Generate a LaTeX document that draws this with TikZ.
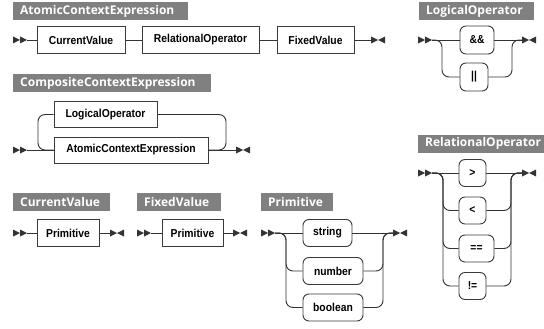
\documentclass[tikz,border=0pt]{standalone}
\usepackage{fontspec}
\newfontfamily\titlefont{Open Sans}
\newfontfamily\boxfont[FakeStretch=0.9]{Liberation Sans}
\definecolor{lc}{HTML}{333333}
\definecolor{bc}{HTML}{3A3A3A}
\definecolor{tc}{HTML}{808080}
\tikzset{
  ln/.style={draw=lc, line width=0.9pt},
  br/.style={ln, rounded corners=7pt},
  nt/.style={draw=bc, fill=white, line width=0.9pt, minimum height=27pt, inner sep=0pt,
    font=\boxfont\bfseries\fontsize{11.5}{13}\selectfont},
  tm/.style={nt, rounded corners=6pt},
  ttl/.style={fill=tc, text=white, anchor=west, inner xsep=7pt, inner ysep=0pt,
    minimum height=18pt, align=left, font=\titlefont\bfseries\fontsize{12}{14}\selectfont},
  startm/.pic={\fill[lc] (0,-3.5) -- (7,0) -- (0,3.5) -- cycle;
               \fill[lc] (7,-3.5) -- (14,0) -- (7,3.5) -- cycle;},
  endm/.pic={\fill[lc] (0,-3.5) -- (7,0) -- (0,3.5) -- cycle;
             \fill[lc] (14,-3.5) -- (7,0) -- (14,3.5) -- cycle;}
}
\begin{document}
\begin{tikzpicture}[x=1pt,y=-1pt]
\useasboundingbox[fill=white] (0,0) rectangle (544,329);
% titles
\node[ttl, text width=161pt] (t1) at (13,11) {AtomicContextExpression};
\node[ttl, text width=184pt] (t2) at (13,83) {CompositeContextExpression};
\node[ttl, text width=83pt] (t3) at (13,201.5) {CurrentValue};
\node[ttl, text width=70pt] (t4) at (137,201.5) {FixedValue};
\node[ttl, text width=58pt] (t5) at (261,201.5) {Primitive};
\node[ttl, text width=101pt] (t6) at (419,11) {LogicalOperator};
\node[ttl, text width=130pt] (t7) at (418,143.5) {RelationalOperator};

% AtomicContextExpression
\pic at (13,40) {startm};
\coordinate (s1) at (27,40);
\node[nt, minimum width=88pt] (cv1) at (81,40) {CurrentValue};
\node[nt, minimum width=117pt] (ro1) at (200.5,40) {RelationalOperator};
\node[nt, minimum width=77pt] (fv1) at (315.5,40) {FixedValue};
\coordinate (e1) at (371,40);
\pic at (371,40) {endm};
\draw[ln] (s1) -- (cv1) -- (ro1) -- (fv1) -- (e1);

% CompositeContextExpression
\pic at (13,150) {startm};
\coordinate (s2) at (27,150);
\node[nt, minimum width=103pt, minimum height=26pt] (lo2) at (105.5,114.5) {LogicalOperator};
\node[nt, minimum width=154pt, minimum height=26pt] (ac2) at (131,150) {AtomicContextExpression};
\coordinate (e2) at (236,150);
\pic at (236,150) {endm};
\draw[ln] (s2) -- (ac2);
\draw[ln] (ac2) -- (e2);
\draw[br] (lo2.west) -| (38,150) -- (ac2.west);
\draw[br] (lo2.east) -| (226,150) -- (ac2.east);

% CurrentValue
\pic at (13,233) {startm};
\coordinate (s3) at (27,233);
\node[nt, minimum width=62pt] (p3) at (68,233) {Primitive};
\coordinate (e3) at (110,233);
\pic at (110,233) {endm};
\draw[ln] (s3) -- (p3) -- (e3);

% FixedValue
\pic at (137,233) {startm};
\coordinate (s4) at (151,233);
\node[nt, minimum width=61pt] (p4) at (192.5,233) {Primitive};
\coordinate (e4) at (233,233);
\pic at (233,233) {endm};
\draw[ln] (s4) -- (p4) -- (e4);

% Primitive
\pic at (261,233) {startm};
\coordinate (s5) at (275,233);
\node[tm, minimum width=49pt] (str) at (327.5,233) {string};
\node[tm, minimum width=60pt] (num) at (333,271) {number};
\node[tm, minimum width=60pt] (bool) at (333,307.5) {boolean};
\coordinate (e5) at (393,233);
\pic at (393,233) {endm};
\draw[ln] (s5) -- (str) -- (e5);
\draw[br] (s5) -| (286,271) -- (num.west);
\draw[br] (s5) -| (286,307.5) -- (bool.west);
\draw[br] (num.east) -| (383,233) -- (e5);
\draw[br] (bool.east) -| (383,233) -- (e5);

% LogicalOperator
\pic at (418,40) {startm};
\coordinate (s6) at (432,40);
\node[tm, minimum width=34pt, minimum height=28pt] (and) at (477,40) {\&\&};
\node[tm, minimum width=28pt, minimum height=28pt] (or) at (474,77) {||};
\coordinate (e6) at (522,40);
\pic at (522,40) {endm};
\draw[ln] (s6) -- (and) -- (e6);
\draw[br] (s6) -| (442,77) -- (or.west);
\draw[br] (or.east) -| (512,40) -- (e6);

% RelationalOperator
\pic at (418,173) {startm};
\coordinate (s7) at (432,173);
\node[tm, minimum width=27pt] (gt) at (472.5,173) {>};
\node[tm, minimum width=27pt] (lt) at (472.5,210.5) {<};
\node[tm, minimum width=35pt] (eq) at (476.5,248.5) {==};
\node[tm, minimum width=27pt] (ne) at (472.5,286) {!=};
\coordinate (e7) at (522,173);
\pic at (522,173) {endm};
\draw[ln] (s7) -- (gt) -- (e7);
\draw[br] (s7) -| (443,210.5) -- (lt.west);
\draw[br] (s7) -| (443,248.5) -- (eq.west);
\draw[br] (s7) -| (443,286) -- (ne.west);
\draw[br] (lt.east) -| (511,173) -- (e7);
\draw[br] (eq.east) -| (511,173) -- (e7);
\draw[br] (ne.east) -| (511,173) -- (e7);
\end{tikzpicture}
\end{document}
